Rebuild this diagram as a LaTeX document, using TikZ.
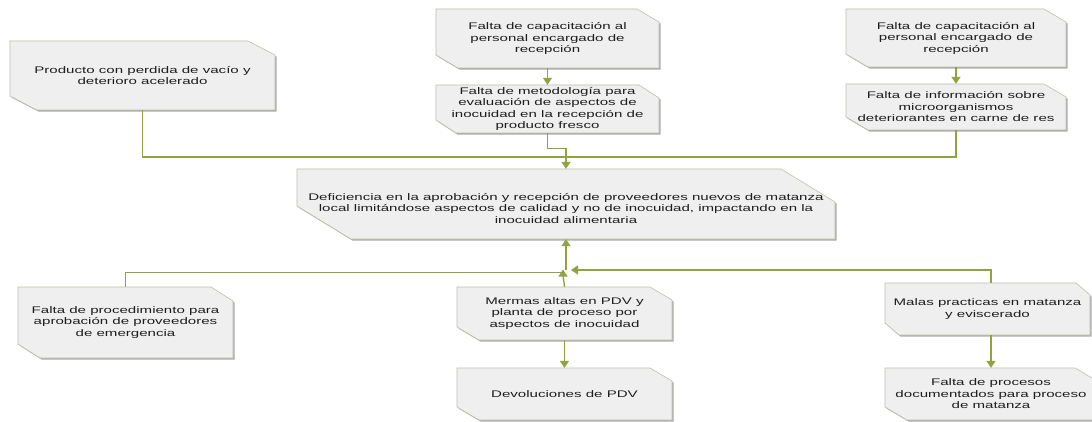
\documentclass[tikz,border=0pt]{standalone}
\usepackage{fontspec}
\setmainfont{Liberation Sans}[FakeStretch=1.57]
\usetikzlibrary{arrows.meta,calc}
\definecolor{linec}{HTML}{8FA33F}
\definecolor{boxfill}{HTML}{EFEFEF}
\definecolor{boxline}{HTML}{BCC0AC}
\definecolor{shadowc}{HTML}{ABABAB}
\definecolor{textc}{HTML}{1E1E1E}
\tikzset{
  conn/.style={draw=linec, line width=1.3pt},
  arr/.style={conn, -{Triangle[width=9pt,length=7pt]}},
  boxshape/.style={fill=boxfill, draw=boxline, line width=0.6pt},
  boxshadow/.style={fill=shadowc},
  txt/.style={inner sep=0pt, align=center, text=textc, font=\fontsize{9.6}{11.5}\selectfont},
}
% #1 name, #2 x1, #3 y1 (top), #4 x2, #5 y2 (bottom), #6 cut x, #7 cut y, #8 text
\newcommand{\snipbox}[8]{%
  \path[boxshadow] ({#2+1.6},{#3+1.6}) -- ({#4-#6+1.6},{#3+1.6}) -- ({#4+1.6},{#3+#7+1.6}) -- ({#4+1.6},{#5+1.6}) -- ({#2+#6+1.6},{#5+1.6}) -- ({#2+1.6},{#5-#7+1.6}) -- cycle;
  \path[boxshape] (#2,#3) -- ({#4-#6},#3) -- (#4,{#3+#7}) -- (#4,#5) -- ({#2+#6},#5) -- (#2,{#5-#7}) -- cycle;
  \node[txt, minimum width={#4-#2}, minimum height={#5-#3}] (#1) at ({(#2+#4)/2},{(#3+#5)/2}) {#8};
}
\begin{document}
\begin{tikzpicture}[x=1pt,y=-1pt]
\useasboundingbox[fill=white] (0,0) rectangle (1092,422);

\snipbox{prod}{10}{41}{275}{110}{27}{14}{Producto con perdida de vacío y\\deterioro acelerado}
\snipbox{cap1}{436}{9}{659}{68}{22}{13}{Falta de capacitación al\\personal encargado de\\recepción}
\snipbox{metod}{436}{85}{659}{133}{20}{13}{Falta de metodología para\\evaluación de aspectos de\\inocuidad en la recepción de\\producto fresco}
\snipbox{cap2}{846}{9}{1066}{67}{22}{13}{Falta de capacitación al\\personal encargado de\\recepción}
\snipbox{info}{846}{84}{1066}{130}{22}{13}{Falta de información sobre\\microorganismos\\deteriorantes en carne de res}
\snipbox{central}{297}{169}{835}{239}{54}{33}{\rule{0pt}{16pt}Deficiencia en la aprobación y recepción de proveedores nuevos de matanza\\local limitándose aspectos de calidad y no de inocuidad, impactando en la\\inocuidad alimentaria}
\snipbox{proc}{18}{287}{233}{358}{22}{14}{Falta de procedimiento para\\aprobación de proveedores\\de emergencia}
\snipbox{mermas}{457}{287}{672}{340}{22}{13}{Mermas altas en PDV y\\planta de proceso por\\aspectos de inocuidad}
\snipbox{devol}{457}{368}{672}{420}{22}{13}{Devoluciones de PDV}
\snipbox{malas}{885}{283}{1090}{335}{14}{12}{Malas practicas en matanza\\y eviscerado}
\snipbox{procesos}{885}{368}{1097}{420}{22}{13}{Falta de procesos\\documentados para proceso\\de matanza}

% top connectors
\coordinate (busT) at (0,157);
\draw[conn] (prod.south) -- (prod.south |- busT) -- (info.south |- busT) -- (info.south);
\draw[arr] (cap1.south) -- (metod.north);
\draw[arr] (cap2.south) -- (info.north);
\draw[arr] (metod.south) -- ++(0,15) -| (central.north);

% bottom connectors
\coordinate (busL) at (0,272.5);
\coordinate (busR) at (0,270);
\coordinate (jL) at ([xshift=-3pt]central.south |- busL);
\draw[conn] (proc.north) |- (jL);
\draw[arr] (mermas.north) to[out=95,in=-90] ([yshift=3pt]jL);
\draw[arr] (procesos.north |- malas.north) |- ([xshift=5pt]central.south |- busR);
\draw[arr] (central.south |- busR) -- (central.south);
\draw[arr] (mermas.south) -- (devol.north);
\draw[arr] (procesos.north |- malas.south) -- (procesos.north);
\end{tikzpicture}
\end{document}
